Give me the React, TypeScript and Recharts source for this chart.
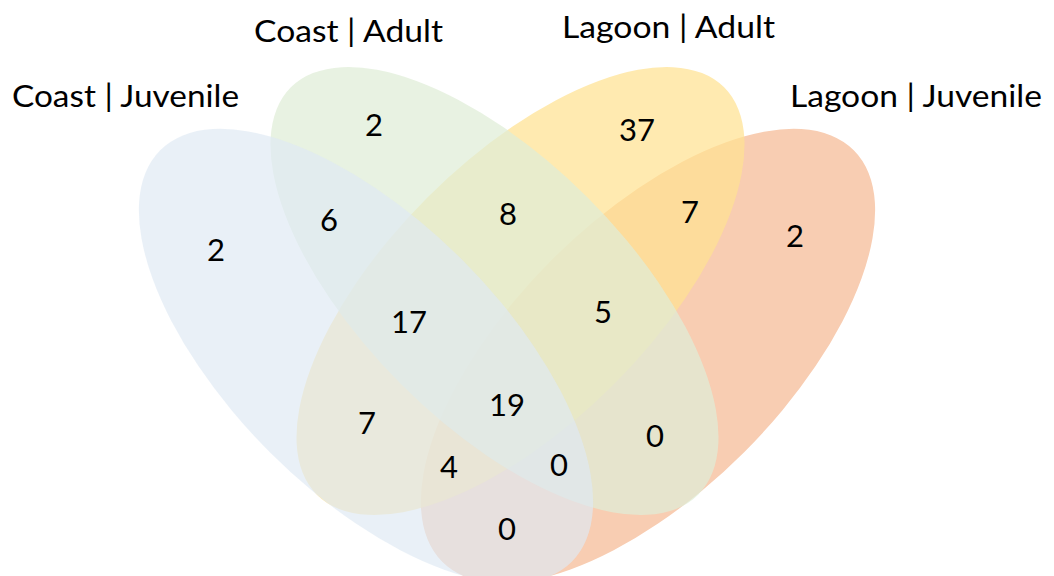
import React from 'react';
import { ScatterChart, Scatter, XAxis, YAxis } from 'recharts';

// ---- data ----
const setNames = ['Coast | Juvenile', 'Coast | Adult', 'Lagoon | Adult', 'Lagoon | Juvenile'];
const regionKeys = [
  'CJ', 'CA', 'LA', 'LJ',
  'CJ&CA', 'CA&LA', 'LA&LJ',
  'CJ&CA&LA', 'CA&LA&LJ', 'CJ&CA&LA&LJ',
  'CJ&LA', 'CJ&LA&LJ', 'CJ&CA&LJ', 'CA&LJ', 'CJ&LJ',
];
const regionCounts = [2, 2, 37, 2, 6, 8, 7, 17, 5, 19, 7, 4, 0, 0, 0];

// ---- layout (chart coordinate space) ----
const W = 1054;
const H = 576;
const ellipseLayout = [
  { x: 366, y: 356, rx: 291, ry: 136, angle: 45, fill: '#DEE9F3', opacity: 0.67 },
  { x: 494.5, y: 291, rx: 288, ry: 132, angle: 45, fill: '#DFEDD7', opacity: 0.72 },
  { x: 520.5, y: 291, rx: 288, ry: 132, angle: -45, fill: '#FFE291', opacity: 0.72 },
  { x: 648, y: 356, rx: 291, ry: 136, angle: -45, fill: '#F8CDB2', opacity: 1 },
];
const drawOrder = [3, 2, 1, 0];
const setLabelLayout = [
  { x: 12, y: 107, w: 227 },
  { x: 254, y: 42, w: 189 },
  { x: 562, y: 38, w: 213 },
  { x: 790, y: 107, w: 252 },
];
const regionLayout: Record<string, { x: number; y: number }> = {
  CJ: { x: 216, y: 250 },
  CA: { x: 374, y: 125 },
  LA: { x: 637, y: 130 },
  LJ: { x: 795, y: 236 },
  'CJ&CA': { x: 329, y: 220 },
  'CA&LA': { x: 508, y: 214 },
  'LA&LJ': { x: 690, y: 212 },
  'CJ&CA&LA': { x: 409, y: 322 },
  'CA&LA&LJ': { x: 603, y: 312 },
  'CJ&CA&LA&LJ': { x: 507, y: 405 },
  'CJ&LA': { x: 367, y: 423 },
  'CJ&LA&LJ': { x: 449, y: 467 },
  'CJ&CA&LJ': { x: 559, y: 465 },
  'CA&LJ': { x: 655, y: 436 },
  'CJ&LJ': { x: 507, y: 529 },
};

const FONT = 'Lato, "Open Sans", sans-serif';

const ellipseData = drawOrder.map((i) => ({ ...ellipseLayout[i], name: setNames[i] }));
const labelData = setNames.map((name, i) => ({ name, ...setLabelLayout[i] }));
const regionData = regionKeys.map((k, i) => ({ key: k, value: regionCounts[i], ...regionLayout[k] }));

const EllipseShape = (props: any) => {
  const { cx, cy, payload } = props;
  return (
    <ellipse
      cx={cx}
      cy={cy}
      rx={payload.rx}
      ry={payload.ry}
      transform={`rotate(${payload.angle} ${cx} ${cy})`}
      fill={payload.fill}
      fillOpacity={payload.opacity}
      stroke="none"
    />
  );
};

const SetLabelShape = (props: any) => {
  const { cx, cy, payload } = props;
  return (
    <text
      x={cx}
      y={cy}
      fontFamily={FONT}
      fontSize={30}
      fill="#000"
      textLength={payload.w}
      lengthAdjust="spacingAndGlyphs"
    >
      {payload.name}
    </text>
  );
};

const RegionShape = (props: any) => {
  const { cx, cy, payload } = props;
  return (
    <text x={cx} y={cy + 11} fontFamily={FONT} fontSize={31} fill="#000" textAnchor="middle">
      {payload.value}
    </text>
  );
};

export default function App() {
  return (
    <div style={{ position: 'absolute', left: 0, top: 0, background: '#fff' }}>
      <ScatterChart width={W} height={H} margin={{ top: 0, right: 0, bottom: 0, left: 0 }}>
        <XAxis type="number" dataKey="x" domain={[0, W]} hide allowDataOverflow />
        <YAxis type="number" dataKey="y" domain={[0, H]} reversed hide allowDataOverflow />
        <Scatter data={ellipseData} shape={EllipseShape} isAnimationActive={false} />
        <Scatter data={labelData} shape={SetLabelShape} isAnimationActive={false} />
        <Scatter data={regionData} shape={RegionShape} isAnimationActive={false} />
      </ScatterChart>
    </div>
  );
}
